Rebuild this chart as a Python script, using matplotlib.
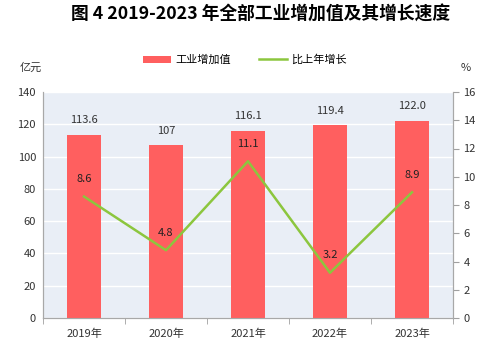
import matplotlib
matplotlib.use("Agg")
import matplotlib.pyplot as plt
import numpy as np

plt.rcParams['font.family'] = ['Noto Sans CJK SC', 'DejaVu Sans']

years = ["2019年", "2020年", "2021年", "2022年", "2023年"]
value_labels = ["113.6", "107", "116.1", "119.4", "122.0"]
values = [113.6, 107, 116.1, 119.4, 122.0]
growth = [8.6, 4.8, 11.1, 3.2, 8.9]

fig = plt.figure(figsize=(5.01, 3.56), dpi=100)
ax = fig.add_axes([43/501, 1-318/356, 410/501, 226/356])
ax.set_facecolor('#E9EEF6')
x = np.arange(len(years))
ax.bar(x, values, width=0.42, color='#FF5F5F', zorder=3, label='工业增加值')
ax.set_ylim(0, 140)
ax.set_yticks(range(0, 141, 20))
ax.set_xlim(-0.5, len(years) - 0.5)
ax.grid(axis='y', color='white', linewidth=1.0, zorder=0)
ax.set_axisbelow(True)
ax.set_xticks(x)
ax.set_xticklabels(years, fontsize=8)
ax.set_xticks(np.arange(-0.5, len(years), 1.0), minor=True)
ax.tick_params(axis='x', which='major', length=0, pad=8, colors='#333333')
ax.tick_params(axis='x', which='minor', length=4, color='#A0A0A0')
ax.tick_params(axis='y', length=0, labelsize=8, pad=5, colors='#333333')
for s in ['left', 'bottom', 'right', 'top']:
    ax.spines[s].set_color('#A8A8A8')
ax.spines['top'].set_visible(False)

for xi, v, lab in zip(x, values, value_labels):
    ax.annotate(lab, (xi, v), xytext=(0, 7), textcoords='offset points',
                ha='center', va='bottom', fontsize=8, color='#333333')

ax2 = ax.twinx()
ax2.plot(x, growth, color='#8CC63E', linewidth=1.8, zorder=4, label='比上年增长')
ax2.set_ylim(0, 16)
ax2.set_yticks(range(0, 17, 2))
ax2.tick_params(axis='y', length=4, labelsize=8, colors='#333333')
ax2.tick_params(axis='y', which='both', color='#A0A0A0')
for s in ['left', 'bottom', 'right', 'top']:
    ax2.spines[s].set_color('#A8A8A8')
ax2.spines['top'].set_visible(False)
for xi, g in zip(x, growth):
    ax2.annotate(f"{g}", (xi, g), xytext=(0, 9), textcoords='offset points',
                 ha='center', va='bottom', fontsize=8, color='#222222')

fig.text(261/501, 1-15/356, "图 4 2019-2023 年全部工业增加值及其增长速度", ha='center', va='center',
         fontsize=12.8, fontweight='bold', color='black')
fig.text(20/501, 1-68/356, "亿元", ha='left', va='center', fontsize=8, color='#333333')
fig.text(461/501, 1-68/356, "%", ha='left', va='center', fontsize=8, color='#333333')

h1, l1 = ax.get_legend_handles_labels()
h2, l2 = ax2.get_legend_handles_labels()
fig.legend(h1 + h2, l1 + l2, loc='center', bbox_to_anchor=(245/501, 1-60/356), ncol=2,
           frameon=False, fontsize=8, handlelength=2.5, handleheight=0.7, columnspacing=2.5,
           handletextpad=0.4)

fig.savefig('out.png', dpi=100, facecolor='white')
